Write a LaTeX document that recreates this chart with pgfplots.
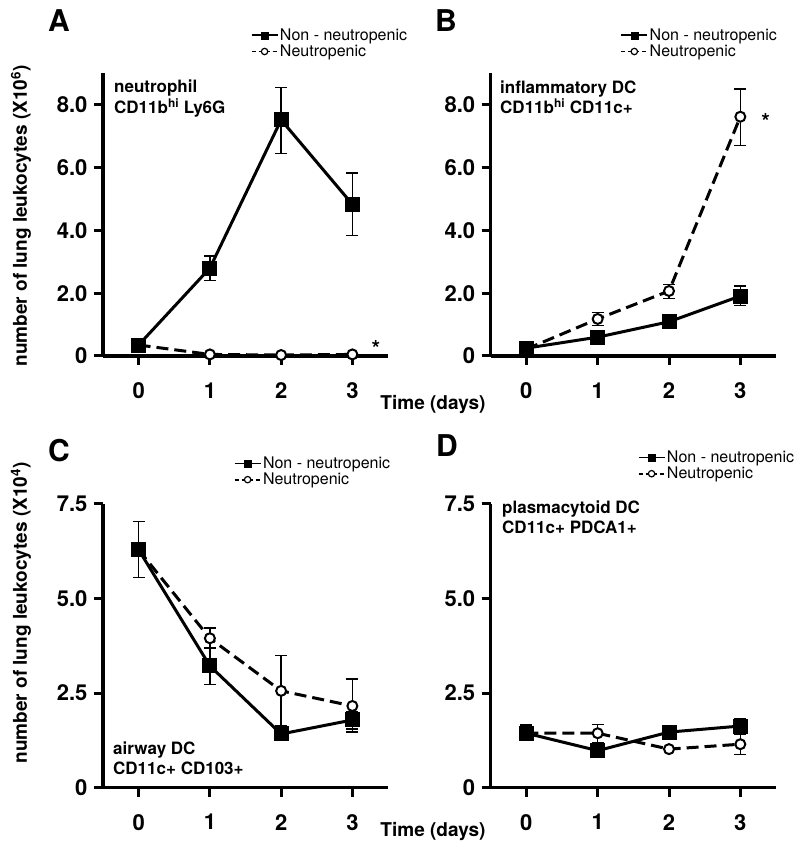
\documentclass[border=0pt]{standalone}
\usepackage{fontspec}
\setmainfont{TeX Gyre Heros}
\usepackage{pgfplots}
\pgfplotsset{compat=1.18}

\pgfplotsset{
  panel/.style={
    scale only axis, width=285pt,
    axis lines=left,
    axis line style={line width=3.5pt, -},
    xmin=-0.5, xmax=3.5,
    xtick={0,1,2,3},
    xticklabels={\textbf{0},\textbf{1},\textbf{2},\textbf{3}},
    tick align=outside,
    major tick length=9pt,
    every tick/.style={black, line width=3pt},
    ticklabel style={font=\fontsize{22}{22}\selectfont\bfseries},
    xticklabel shift=14pt,
    yticklabel shift=3pt,
    /pgf/number format/assume math mode=true,
    clip=false,
    legend style={draw=none, fill=none, font=\fontsize{16}{16}\selectfont, anchor=north west, inner sep=0pt, row sep=0pt, nodes={inner sep=1.5pt}},
    legend cell align=left,
    legend image code/.code={\draw[mark repeat=2, mark phase=2, ##1] plot coordinates {(0pt,0pt) (13pt,0pt) (26pt,0pt)};},
  },
  ebars/.style={error bars/y dir=both, error bars/y explicit,
    error bars/error bar style={line width=1.3pt, solid},
    error bars/error mark options={line width=1.3pt, mark size=6pt, rotate=90, solid}},
  nonn/.style={black, line width=3pt, mark=square*, mark size=7pt, mark options={solid, line width=1pt}, ebars},
  neut/.style={black, line width=3pt, dash pattern=on 12pt off 6pt, mark=*, mark size=5pt, mark options={solid, fill=white, line width=2pt}, ebars},
  legnon/.style={black, line width=1.8pt, mark=square*, mark size=3.5pt, mark options={solid, line width=0.5pt}},
  legneu/.style={black, line width=1.8pt, dash pattern=on 4pt off 3pt, mark=*, mark size=3.2pt, mark options={solid, fill=white, line width=1.2pt}},
}

\begin{document}
\begin{tikzpicture}[x=1pt,y=1pt]
\useasboundingbox (0,0) rectangle (800,855);

% ---------- A ----------
\begin{axis}[panel, at={(103pt,499pt)}, anchor=south west,
  height=282.6pt, ymin=0, ymax=9,
  ytick={0,2,4,6,8}, yticklabels={\textbf{0},\textbf{2.0},\textbf{4.0},\textbf{6.0},\textbf{8.0}},
  legend style={at={(0.5175,1.164)}}]
\addlegendimage{legnon}\addlegendentry{Non - neutropenic}
\addlegendimage{legneu}\addlegendentry{Neutropenic}
\addplot[forget plot, neut] coordinates {(0,0.35) (1,0.05) (2,0.03) (3,0.05)};
\addplot[forget plot, nonn] coordinates {
 (0,0.35)
 (1,2.8) += (0,0.38) -= (0,0.40)
 (2,7.52) += (0,1.04) -= (0,1.06)
 (3,4.83) += (0,1.00) -= (0,1.00)};
\end{axis}

% ---------- B ----------
\begin{axis}[panel, at={(490.7pt,499pt)}, anchor=south west, width=285.3pt,
  height=282.6pt, ymin=0, ymax=9,
  ytick={0,2,4,6,8}, yticklabels={\textbf{0},\textbf{2.0},\textbf{4.0},\textbf{6.0},\textbf{8.0}},
  legend style={at={(0.454,1.164)}}]
\addlegendimage{legnon}\addlegendentry{Non - neutropenic}
\addlegendimage{legneu}\addlegendentry{Neutropenic}
\addplot[forget plot, neut] coordinates {
 (0,0.22)
 (1,1.18) += (0,0.20) -= (0,0.20)
 (2,2.07) += (0,0.21) -= (0,0.24)
 (3,7.62) += (0,0.88) -= (0,0.92)};
\addplot[forget plot, nonn] coordinates {
 (0,0.25) (1,0.6) (2,1.09)
 (3,1.91) += (0,0.32) -= (0,0.31)};
\end{axis}

% ---------- C ----------
\begin{axis}[panel, at={(103pt,67.3pt)}, anchor=south west,
  height=283.7pt, ymin=0, ymax=7.5,
  ytick={0,2.5,5,7.5}, yticklabels={\textbf{0},\textbf{2.5},\textbf{5.0},\textbf{7.5}},
  legend style={at={(0.458,1.172)}}]
\addlegendimage{legnon}\addlegendentry{Non - neutropenic}
\addlegendimage{legneu}\addlegendentry{Neutropenic}
\addplot[forget plot, neut] coordinates {
 (0,6.29)
 (1,3.95) += (0,0.27) -= (0,0.27)
 (2,2.56) += (0,0.94) -= (0,0.94)
 (3,2.16) += (0,0.71) -= (0,0.69)};
\addplot[forget plot, nonn] coordinates {
 (0,6.29) += (0,0.75) -= (0,0.73)
 (1,3.22) += (0,0.49) -= (0,0.50)
 (2,1.42) += (0,0.21) -= (0,0.16)
 (3,1.79) += (0,0.22) -= (0,0.24)};
\end{axis}

% ---------- D ----------
\begin{axis}[panel, at={(490.7pt,67.3pt)}, anchor=south west, width=285.3pt,
  height=283.7pt, ymin=0, ymax=7.5,
  ytick={0,2.5,5,7.5}, yticklabels={\textbf{0},\textbf{2.5},\textbf{5.0},\textbf{7.5}},
  legend style={at={(0.5145,1.193)}}]
\addlegendimage{legnon}\addlegendentry{Non - neutropenic}
\addlegendimage{legneu}\addlegendentry{Neutropenic}
\addplot[forget plot, neut] coordinates {
 (0,1.44)
 (1,1.44) += (0,0.24) -= (0,0.24)
 (2,1.02)
 (3,1.15) += (0,0.25) -= (0,0.27)};
\addplot[forget plot, nonn] coordinates {
 (0,1.44) += (0,0.22) -= (0,0.20)
 (1,0.98) (2,1.47)
 (3,1.63) += (0,0.19) -= (0,0.21)};
\end{axis}

% ---------- texts ----------
\begin{scope}[every node/.style={inner sep=0pt}]
\node[anchor=base west, font=\fontsize{30}{30}\selectfont\bfseries] at (48,823) {A};
\node[anchor=base west, font=\fontsize{30}{30}\selectfont\bfseries] at (435,823) {B};
\node[anchor=base west, font=\fontsize{30}{30}\selectfont\bfseries] at (48,393) {C};
\node[anchor=base west, font=\fontsize{30}{30}\selectfont\bfseries] at (436,398) {D};

\begin{scope}[every node/.append style={anchor=base west, font=\fontsize{17}{17}\selectfont\bfseries}]
\node at (114,762.3) {neutrophil};
\node at (114,741.7) {CD11b\textsuperscript{hi} Ly6G};
\node at (500,761.7) {inflammatory DC};
\node at (500,741.7) {CD11b\textsuperscript{hi} CD11c+};
\node at (113,100) {airway DC};
\node at (113,80) {CD11c+ CD103+};
\node at (502,341.7) {plasmacytoid DC};
\node at (502,321.7) {CD11c+ PDCA1+};
\end{scope}

\node[rotate=90, font=\fontsize{19}{19}\selectfont\bfseries] at (21,639) {number of lung leukocytes (X10\textsuperscript{6})};
\node[rotate=90, font=\fontsize{19}{19}\selectfont\bfseries] at (21,242) {number of lung leukocytes (X10\textsuperscript{4})};
\node[font=\fontsize{19}{19}\selectfont\bfseries] at (433,450) {Time (days)};
\node[font=\fontsize{19}{19}\selectfont\bfseries] at (433,23) {Time (days)};

\node[anchor=north, font=\fontsize{22}{22}\selectfont\bfseries] at (376,514.3) {*};
\node[anchor=north, font=\fontsize{22}{22}\selectfont\bfseries] at (765.7,741.7) {*};
\end{scope}
\end{tikzpicture}
\end{document}
